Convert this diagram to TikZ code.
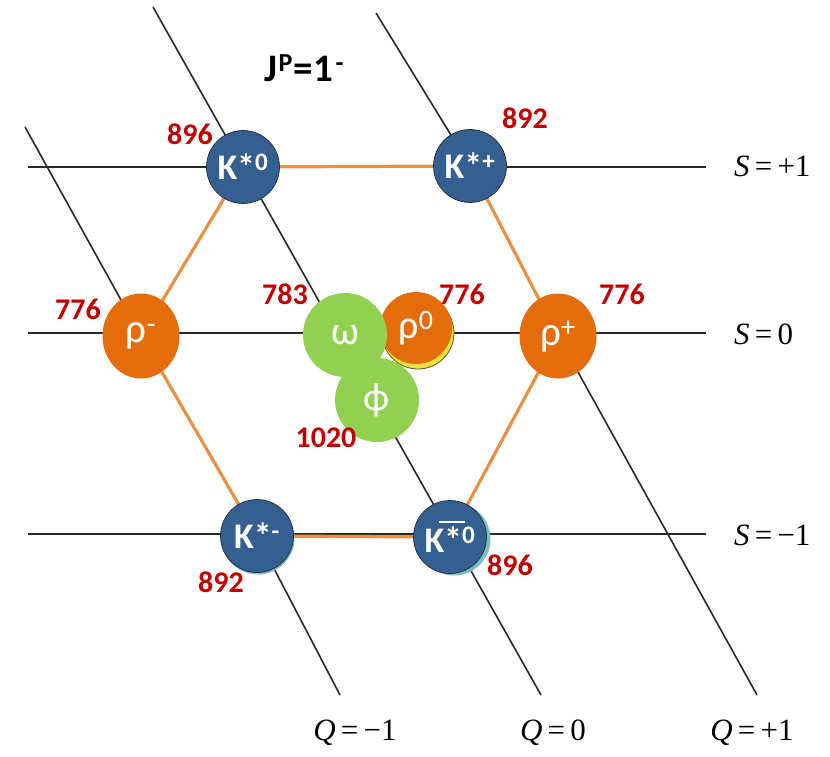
\documentclass[tikz,border=0pt]{standalone}
\usepackage{fontspec}
\setmainfont{Carlito}
\newfontfamily\tnr{Liberation Serif}
\usetikzlibrary{shapes.geometric,backgrounds}
\definecolor{kblue}{RGB}{54,95,145}
\definecolor{kedge}{RGB}{35,45,60}
\definecolor{kshadow}{RGB}{120,190,195}
\definecolor{rorange}{RGB}{228,108,10}
\definecolor{ryellow}{RGB}{240,226,60}
\definecolor{rolive}{RGB}{90,90,30}
\definecolor{mgreen}{RGB}{146,208,80}
\definecolor{mred}{RGB}{192,0,0}
\definecolor{hexc}{RGB}{230,145,70}
\definecolor{gline}{RGB}{40,40,40}
\newcommand{\titlesup}[1]{\raisebox{10pt}{\fontsize{26}{26}\selectfont #1}}
\begin{document}
\begin{tikzpicture}[x=1pt,y=-1pt,
  kaon/.style={circle, fill=kblue, draw=kedge, line width=0.7pt, minimum size=73pt, inner sep=0pt, text=white, font=\fontsize{36}{36}\selectfont\bfseries},
  kshad/.style={circle, fill=kshadow, minimum size=73pt, inner sep=0pt},
  rhon/.style={ellipse, fill=rorange, minimum width=77pt, minimum height=85pt, inner sep=0pt, text=white, font=\fontsize{41}{41}\selectfont},
  rhoc/.style={circle, fill=rorange, minimum size=72pt, inner sep=0pt, text=white, font=\fontsize{40}{40}\selectfont},
  greenn/.style={circle, fill=mgreen, minimum size=84pt, inner sep=0pt, text=white, font=\fontsize{40}{40}\selectfont},
  mass/.style={text=mred, font=\fontsize{30}{30}\selectfont\bfseries, inner sep=0pt},
  axislbl/.style={font=\tnr\fontsize{31}{31}\selectfont, inner sep=0pt},
  gridl/.style={draw=gline, line width=1.6pt, line join=round},
  hexe/.style={draw=hexc, line width=3.2pt, line join=round}
]
\useasboundingbox (0,0) rectangle (830,757);

% line end points
\coordinate (s1a) at (28,167);  \coordinate (s1b) at (706,167);
\coordinate (s0a) at (28,333);  \coordinate (s0b) at (706,333);
\coordinate (sma) at (28,534);  \coordinate (smb) at (706,534);
\coordinate (qma) at (25,127);  \coordinate (qmb) at (340,695);
\coordinate (q0a) at (153,7);   \coordinate (q0b) at (541,695);
\coordinate (qpa) at (376,13);  \coordinate (qpb) at (757,695);

% title
\node[font=\fontsize{39}{39}\selectfont\bfseries, inner sep=0pt] (title) at (304,68) {J\kern1.5pt\titlesup{P}\kern1pt=\kern1pt1\kern2pt\titlesup{-}};

% kaons
\node[kaon] (Kz) at (243,167) {K*\textsuperscript{0}};
\node[kaon] (Kp) at (470,166) {K*\textsuperscript{+}};
\node[kshad] (Kmsh) at (258,538) {};
\node[kaon] (Km) at (257,536) {K*\textsuperscript{-}};
\node[kshad] (Kbsh) at (454,539) {};
\node[kaon] (Kb) at (450,537) {K\makebox[0pt][l]{\hspace{-0.15em}\raisebox{0.82em}{\rule{0.72em}{1.8pt}}}*\textsuperscript{0}};

% rho mesons
\node[rhon] (rm) at (141,336) {ρ\textsuperscript{-}};
\node[rhon] (rp) at (558,336) {ρ\textsuperscript{+}};
\node[circle, fill=ryellow, draw=rolive, line width=0.8pt, minimum size=72pt, inner sep=0pt] (r0sh) at (418,333) {};
\node[rhoc] (r0) at (416,328) {ρ\textsuperscript{0}};

% omega and phi
\node[greenn] (om) at (345,335) {ω};
\node[greenn] (ph) at (377,400) {ϕ};

% masses
\node[mass] (m1) at (190,134) {896};
\node[mass] (m2) at (525,118) {892};
\node[mass] (m3) at (78,309) {776};
\node[mass] (m4) at (285,294) {783};
\node[mass] (m5) at (462,294) {776};
\node[mass] (m6) at (622,294) {776};
\node[mass] (m7) at (326,438) {1020};
\node[mass] (m8) at (221,582) {892};
\node[mass] (m9) at (510,565) {896};

% axis labels
\node[axislbl, anchor=west] (lS1) at (734,166) {\textit{S}\,=\,+1};
\node[axislbl, anchor=west] (lS0) at (734,334) {\textit{S}\,=\,0};
\node[axislbl, anchor=west] (lSm) at (734,535) {\textit{S}\,=\,−1};
\node[axislbl] (lQm) at (355,733) {\textit{Q}\,=\,−1};
\node[axislbl] (lQ0) at (553,733) {\textit{Q}\,=\,0};
\node[axislbl] (lQp) at (752,733) {\textit{Q}\,=\,+1};

\begin{scope}[on background layer]
  \draw[gridl] (s1a) -- (s1b);
  \draw[gridl] (s0a) -- (s0b);
  \draw[gridl] (sma) -- (smb);
  \draw[gridl] (qma) -- (rm.center) -- (Km.center) -- (qmb);
  \draw[gridl] (q0a) -- (q0b);
  \draw[gridl] (qpa) -- (Kp.center) -- (rp.center) -- (qpb);
  \draw[hexe] (Kz.center) -- (Kp.center) -- (rp.center) -- (Kb.center) -- (Km.center) -- (rm.center) -- cycle;
\end{scope}
\end{tikzpicture}
\end{document}
